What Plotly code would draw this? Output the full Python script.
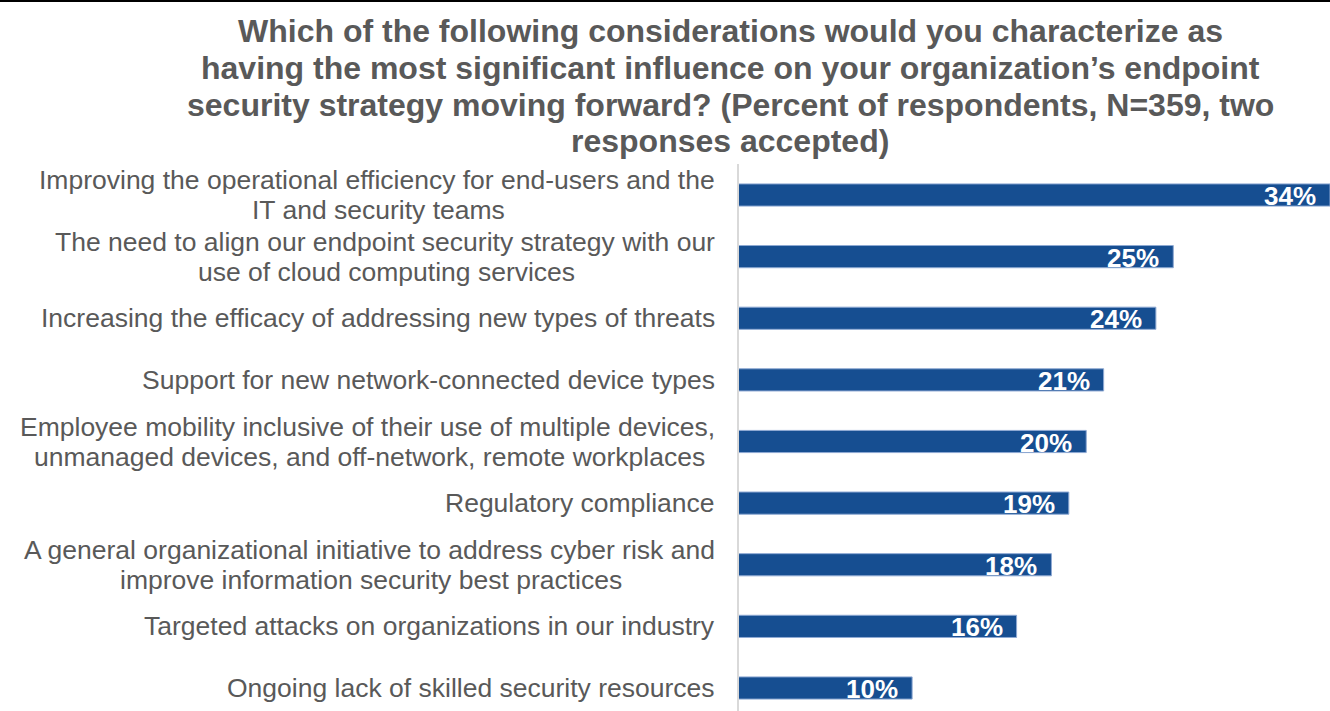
import plotly.graph_objects as go

# Each response option, split into its display lines
categories = [
    ["Improving the operational efficiency for end-users and the", "IT and security teams"],
    ["The need to align our endpoint security strategy with our", "use of cloud computing services"],
    ["Increasing the efficacy of addressing new types of threats"],
    ["Support for new network-connected device types"],
    ["Employee mobility inclusive of their use of multiple devices,", "unmanaged devices, and off-network, remote workplaces"],
    ["Regulatory compliance"],
    ["A general organizational initiative to address cyber risk and", "improve information security best practices"],
    ["Targeted attacks on organizations in our industry"],
    ["Ongoing lack of skilled security resources"],
]
values = [34, 25, 24, 21, 20, 19, 18, 16, 10]

title_lines = [
    "Which of the following considerations would you characterize as",
    "having the most significant influence on your organization\u2019s endpoint",
    "security strategy moving forward? (Percent of respondents, N=359, two",
    "responses accepted)",
]

W, H = 1330, 711
L = 738
TOP = 164
BAR = "#164E91"
GRAY = "#595959"
LABEL_SIZE = 26.5
LINE_OFFSET = 15         # px from bar centre to each line of a wrapped label
LABEL_RIGHT = 717        # right edge of the category labels (px)
# horizontal centre (px) of the second line of each wrapped label
WRAP_CENTERS = {0: 378, 1: 386.5, 4: 369, 6: 370.5}
TITLE_SIZE = 32
TITLE_CENTER_X = 730
TITLE_CENTERS = [31, 68, 104.5, 141]

idx = list(range(len(categories)))


def px_to_paper_x(px):
    return (px - L) / (W - L)


fig = go.Figure(go.Bar(
    x=values, y=idx, orientation="h",
    marker=dict(color=BAR, line=dict(color="#8EA9D3", width=1)),
    width=0.36, hoverinfo="skip",
))

label_font = dict(family="Liberation Sans, Arial", size=LABEL_SIZE, color=GRAY)
annotations = []
for i, (lines, v) in enumerate(zip(categories, values)):
    if len(lines) == 1:
        annotations.append(dict(
            x=px_to_paper_x(LABEL_RIGHT), y=i, xref="paper", yref="y",
            text=lines[0], showarrow=False,
            xanchor="right", yanchor="middle", font=label_font,
        ))
    else:
        annotations.append(dict(
            x=px_to_paper_x(LABEL_RIGHT), y=i, xref="paper", yref="y",
            text=lines[0], showarrow=False, yshift=LINE_OFFSET,
            xanchor="right", yanchor="middle", font=label_font,
        ))
        annotations.append(dict(
            x=px_to_paper_x(WRAP_CENTERS[i]), y=i, xref="paper", yref="y",
            text=lines[1], showarrow=False, yshift=-LINE_OFFSET,
            xanchor="center", yanchor="middle", font=label_font,
        ))
    annotations.append(dict(
        x=v, y=i, xref="x", yref="y", text=f"{v}%", showarrow=False,
        xanchor="right", yanchor="middle", xshift=-12, yshift=-1,
        font=dict(family="Liberation Sans, Arial", size=26, color="white", weight="bold"),
    ))

for line, cy in zip(title_lines, TITLE_CENTERS):
    annotations.append(dict(
        x=px_to_paper_x(TITLE_CENTER_X), y=(H - cy) / (H - TOP),
        xref="paper", yref="paper",
        text=f"<b>{line}</b>", showarrow=False,
        xanchor="center", yanchor="middle",
        font=dict(family="Liberation Sans, Arial", size=TITLE_SIZE, color=GRAY),
    ))

# category axis range so the bars land on their rows
c0, c8 = 195.0, 688.0
ppu = (c8 - c0) / 8
y_top = -(c0 - TOP) / ppu
y_bot = 8 + (H - c8) / ppu

fig.update_layout(
    width=W, height=H,
    margin=dict(l=L, r=0, t=TOP, b=0, pad=0),
    paper_bgcolor="white", plot_bgcolor="white",
    showlegend=False,
    xaxis=dict(range=[0, 34], visible=False, fixedrange=True),
    yaxis=dict(range=[y_bot, y_top], showticklabels=False, ticks="",
               showgrid=False, zeroline=False, showline=False, fixedrange=True),
    shapes=[
        dict(type="line", xref="paper", yref="paper", x0=0, x1=0, y0=0, y1=1,
             line=dict(color="#D9D9D9", width=2)),
        dict(type="line", xref="paper", yref="paper", x0=-L / (W - L), x1=1,
             y0=(H - 0.5) / (H - TOP), y1=(H - 0.5) / (H - TOP),
             line=dict(color="black", width=3)),
    ],
    annotations=annotations,
)

fig.write_html("out.html", config={"displayModeBar": False})
